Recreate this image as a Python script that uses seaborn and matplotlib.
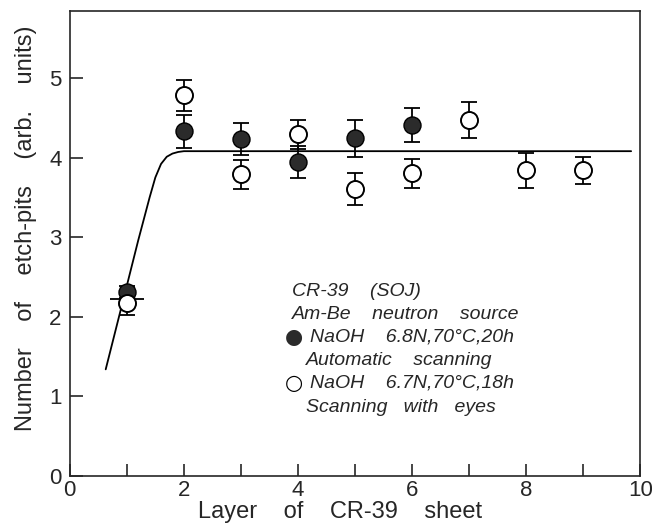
import numpy as np
import pandas as pd
import seaborn as sns
import matplotlib.pyplot as plt
from matplotlib.ticker import MultipleLocator

# automatic scanning (NaOH 6.8N, 70C, 20h) - filled circles
layer_auto = [1, 2, 3, 4, 5, 6]
pits_auto = [2.31, 4.33, 4.23, 3.94, 4.24, 4.41]
err_auto = [0.08, 0.21, 0.20, 0.20, 0.23, 0.21]

# scanning with eyes (NaOH 6.7N, 70C, 18h) - open circles
layer_eye = [1, 2, 3, 4, 5, 6, 7, 8, 9]
pits_eye = [2.17, 4.78, 3.79, 4.29, 3.60, 3.80, 4.47, 3.84, 3.84]
err_eye = [0.15, 0.20, 0.18, 0.18, 0.20, 0.18, 0.23, 0.22, 0.17]
xerr_eye = [0.30, 0, 0, 0, 0, 0, 0, 0, 0]

# hand drawn trend curve
curve_x = [0.63, 1.0, 1.2, 1.4, 1.5, 1.6, 1.7, 1.8, 1.9, 2.0, 3.0, 9.84]
curve_y = [1.34, 2.39, 2.96, 3.50, 3.75, 3.92, 4.01, 4.05, 4.07, 4.08, 4.08, 4.08]

legend_lines = ["CR-39    (SOJ)",
                "Am-Be    neutron    source",
                "NaOH    6.8N,70°C,20h",
                "Automatic    scanning",
                "NaOH    6.7N,70°C,18h",
                "Scanning   with   eyes"]

sns.set_style("ticks")
plt.rcParams["font.family"] = ["Liberation Sans", "DejaVu Sans"]

fig, ax = plt.subplots(figsize=(6.52, 5.26), dpi=100)
fig.subplots_adjust(left=0.107, right=0.982, bottom=0.095, top=0.979)

sns.lineplot(x=curve_x, y=curve_y, color="black", linewidth=1.3, sort=False, ax=ax, zorder=1)

ax.errorbar(layer_auto, pits_auto, yerr=err_auto, fmt="none", ecolor="black",
            elinewidth=1.3, capsize=6, capthick=1.3, zorder=2)
ax.errorbar(layer_eye, pits_eye, yerr=err_eye, fmt="none", ecolor="black",
            elinewidth=1.3, capsize=6, capthick=1.3, zorder=2)
xe = np.array(xerr_eye)
m = xe > 0
ax.errorbar(np.array(layer_eye)[m], np.array(pits_eye)[m] + 0.05, xerr=xe[m], fmt="none",
            ecolor="black", elinewidth=1.3, capsize=0, zorder=2)

sns.scatterplot(x=layer_auto, y=pits_auto, s=150, color="#2b2b2b", edgecolor="black",
                linewidth=1.0, ax=ax, zorder=3)
sns.scatterplot(x=layer_eye, y=pits_eye, s=150, color="white", edgecolor="black",
                linewidth=1.4, ax=ax, zorder=4)

ax.set_xlim(0, 10)
ax.set_ylim(0, 5.84)
ax.xaxis.set_major_locator(MultipleLocator(2))
ax.xaxis.set_minor_locator(MultipleLocator(1))
ax.yaxis.set_major_locator(MultipleLocator(1))
ax.tick_params(which="both", direction="in", length=9, width=1.2, top=False, right=False)
ax.tick_params(axis="both", labelsize=16)
ax.tick_params(axis="x", pad=3)
ax.tick_params(axis="y", pad=6)
for s in ax.spines.values():
    s.set_linewidth(1.2)
    s.set_visible(True)

ax.set_xlabel("Layer    of    CR-39    sheet", fontsize=17)
ax.set_ylabel("Number    of    etch-pits    (arb.    units)", fontsize=17)
ax.xaxis.set_label_coords(0.474, -0.054)
ax.yaxis.set_label_coords(-0.058, 0.533)

# legend block written as text
ys = [0.396, 0.348, 0.299, 0.249, 0.200, 0.148]
xs = [0.389, 0.389, 0.421, 0.414, 0.421, 0.414]
for t, xx, yy in zip(legend_lines, xs, ys):
    ax.text(xx, yy, t, transform=ax.transAxes, fontsize=14, style="italic",
            va="center", ha="left")
ax.text(0.393, ys[2], "\u25CF", transform=ax.transAxes, fontsize=15, color="#2b2b2b",
        va="center", ha="center", family=["DejaVu Sans"])
ax.text(0.393, ys[4], "\u25CB", transform=ax.transAxes, fontsize=15, color="black",
        va="center", ha="center", family=["DejaVu Sans"])

plt.savefig("out.png", dpi=100)
